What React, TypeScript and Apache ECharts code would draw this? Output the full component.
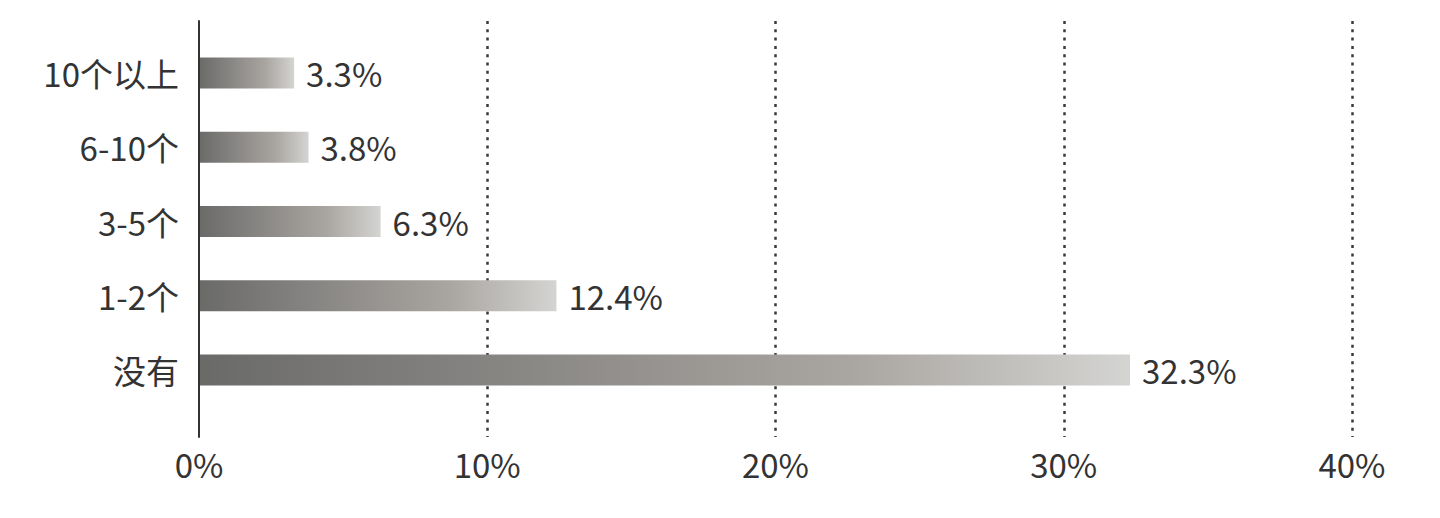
import React, { useEffect, useRef } from "react";
import * as echarts from "echarts";

const categories = ["没有", "1-2个", "3-5个", "6-10个", "10个以上"];
const values = [32.3, 12.4, 6.3, 3.8, 3.3];
const xTicks = [0, 10, 20, 30, 40];

const FONT = "'Noto Sans CJK SC', 'Noto Sans', sans-serif";
const FS = 33;

export default function App() {
  const ref = useRef<HTMLDivElement>(null);
  useEffect(() => {
    if (!ref.current) return;
    const chart = echarts.init(ref.current, null, { renderer: "svg" });
    const gradient = new echarts.graphic.LinearGradient(0, 0, 1, 0, [
      { offset: 0, color: "#6a6a69" },
      { offset: 0.7, color: "#a9a5a1" },
      { offset: 1, color: "#d4d4d2" },
    ]);
    chart.setOption({
      animation: false,
      textStyle: { fontFamily: FONT },
      grid: [
        { left: 191, right: 80, top: 13, bottom: 81 },
        { left: 191, right: 80, top: 28, bottom: 111 },
      ],
      xAxis: [
        {
          type: "value",
          gridIndex: 0,
          min: xTicks[0],
          max: xTicks[xTicks.length - 1],
          interval: 10,
          axisLine: { show: false },
          axisTick: { show: false },
          axisLabel: {
            formatter: "{value}%",
            color: "#333",
            fontSize: FS,
            fontFamily: FONT,
            margin: 10,
          },
          splitLine: {
            show: true,
            showMinLine: false,
            lineStyle: { color: "#3a3a3a", width: 2.5, type: [3, 5.3] },
          },
        },
        {
          type: "value",
          gridIndex: 1,
          min: xTicks[0],
          max: xTicks[xTicks.length - 1],
          show: false,
          splitLine: { show: false },
        },
      ],
      yAxis: [
        {
          type: "category",
          gridIndex: 0,
          data: [""],
          axisLine: { show: true, lineStyle: { color: "#333", width: 2 } },
          axisTick: { show: false },
          axisLabel: { show: false },
          z: 5,
        },
        {
          type: "category",
          gridIndex: 1,
          data: categories,
          axisLine: { show: false },
          axisTick: { show: false },
          axisLabel: {
            color: "#333",
            fontSize: FS,
            fontFamily: FONT,
            margin: 20,
          },
        },
      ],
      series: [
        {
          type: "bar",
          xAxisIndex: 1,
          yAxisIndex: 1,
          data: values,
          barWidth: 31,
          itemStyle: { color: gradient },
          label: {
            show: true,
            position: "right",
            distance: 12,
            formatter: (p: any) => p.value + "%",
            color: "#333",
            fontSize: FS,
            fontFamily: FONT,
          },
        },
      ],
    });
    return () => chart.dispose();
  }, []);
  return <div ref={ref} style={{ width: 1424, height: 510 }} />;
}
